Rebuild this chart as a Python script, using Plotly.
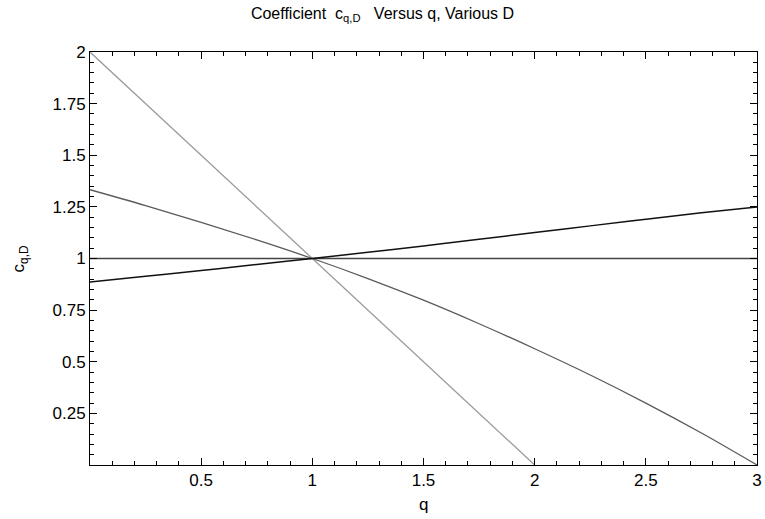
import plotly.graph_objects as go

q_grid = [0, 0.25, 0.5, 0.75, 1.0, 1.25, 1.5, 1.75, 2.0, 2.25, 2.5, 2.75, 3.0]
c_black = [0.886, 0.914, 0.942, 0.971, 1.0, 1.030, 1.061, 1.093, 1.126, 1.158, 1.190, 1.221, 1.25]
c_dark = [1.333, 1.256, 1.175, 1.090, 1.0, 0.903, 0.798, 0.684, 0.563, 0.436, 0.300, 0.155, 0.0]
q_light = [0, 0.5, 1.0, 1.5, 2.0]
c_light = [2.0, 1.5, 1.0, 0.5, 0.0]
q_flat = [0, 3]
c_flat = [1.0, 1.0]

hidden_labels = {"0": ""}

fig = go.Figure()
fig.add_trace(go.Scatter(x=q_flat, y=c_flat, mode="lines",
                         line=dict(color="#444444", width=1.3)))
fig.add_trace(go.Scatter(x=q_light, y=c_light, mode="lines",
                         line=dict(color="#9a9a9a", width=1.3)))
fig.add_trace(go.Scatter(x=q_grid, y=c_dark, mode="lines", line_shape="spline",
                         line=dict(color="#5a5a5a", width=1.3)))
fig.add_trace(go.Scatter(x=q_grid, y=c_black, mode="lines", line_shape="spline",
                         line=dict(color="#111111", width=1.5)))

font = "Liberation Sans, Arial, sans-serif"
axis_common = dict(showgrid=False, zeroline=False, automargin=False,
                   showline=True, linecolor="black", linewidth=1, mirror="allticks",
                   ticks="inside", ticklen=7, tickcolor="black", tickwidth=1.2,
                   tickmode="linear", tick0=0, labelalias=hidden_labels,
                   ticklabeloverflow="allow", layer="above traces")
fig.update_layout(
    width=765, height=519,
    margin=dict(l=90, r=8, t=52, b=54),
    paper_bgcolor="white", plot_bgcolor="white",
    showlegend=False,
    font=dict(family=font, size=17, color="black"),
    title=dict(text="Coefficient  c<sub>q,D</sub>   Versus q, Various D",
               x=0.5, xanchor="center", y=0.985, yanchor="top",
               font=dict(family=font, size=16, color="black")),
    xaxis=dict(range=[0, 3], dtick=0.5,
               minor=dict(ticks="inside", dtick=0.1, tick0=0, ticklen=4,
                          tickcolor="black", tickwidth=1, showgrid=False),
               **axis_common),
    yaxis=dict(range=[0, 2], dtick=0.25,
               minor=dict(ticks="inside", dtick=0.05, tick0=0, ticklen=4,
                          tickcolor="black", tickwidth=1, showgrid=False),
               **axis_common),
    annotations=[
        dict(text="q", xref="paper", yref="paper", x=0.5, y=-0.095,
             xanchor="center", yanchor="middle", showarrow=False,
             font=dict(family=font, size=17, color="black")),
        dict(text="c<sub>q,D</sub>", xref="paper", yref="paper", x=-0.105, y=0.5,
             xanchor="center", yanchor="middle", textangle=-90, showarrow=False,
             font=dict(family=font, size=17, color="black")),
    ],
)

fig.write_html("out.html", config={"displayModeBar": False})
with open("out.html", encoding="utf-8") as f:
    html = f.read()
html = html.replace("<head>", "<head><style>html,body{margin:0;padding:0;}</style>", 1)
with open("out.html", "w", encoding="utf-8") as f:
    f.write(html)
